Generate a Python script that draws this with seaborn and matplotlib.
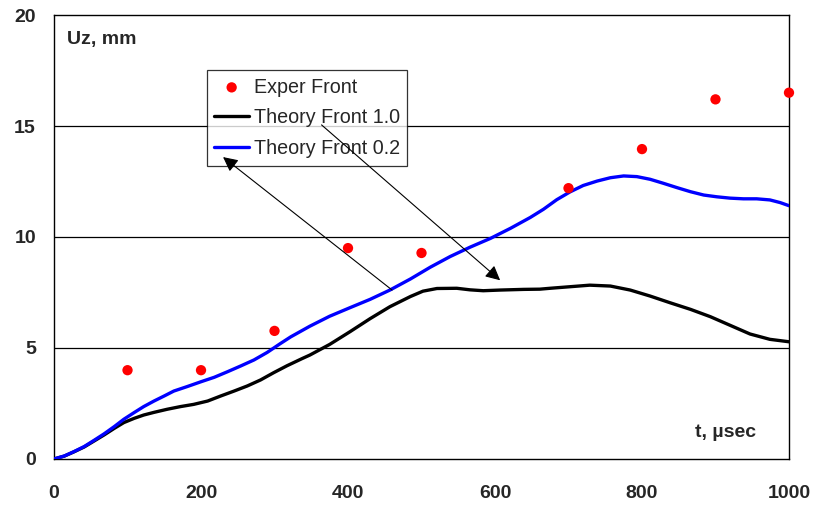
import numpy as np
import pandas as pd
import matplotlib
matplotlib.use("Agg")
import matplotlib.pyplot as plt
import seaborn as sns

# --- data ---
exp_t = [100, 200, 300, 400, 500, 700, 800, 900, 1000]
exp_uz = [4.0, 4.0, 5.77, 9.5, 9.28, 12.2, 13.96, 16.2, 16.5]

th10_t = [0, 14, 27, 41, 54, 68, 82, 95, 109, 122, 136, 154, 172, 190, 209, 227, 245,
          263, 281, 299, 317, 338, 348, 375, 403, 430, 457, 485, 502, 521, 548, 566,
          584, 607, 639, 661, 675, 702, 729, 757, 784, 811, 838, 866, 893, 920, 947,
          974, 1000]
th10_uz = [0.0, 0.13, 0.32, 0.54, 0.80, 1.08, 1.38, 1.64, 1.83, 1.98, 2.10, 2.24, 2.36,
           2.46, 2.61, 2.84, 3.06, 3.29, 3.56, 3.89, 4.20, 4.53, 4.68, 5.16, 5.74, 6.32,
           6.86, 7.32, 7.56, 7.68, 7.69, 7.62, 7.58, 7.61, 7.64, 7.65, 7.69, 7.76, 7.83,
           7.79, 7.61, 7.34, 7.04, 6.74, 6.41, 6.02, 5.63, 5.39, 5.28]

th02_t = [0, 14, 27, 41, 54, 68, 82, 95, 109, 122, 136, 150, 163, 181, 200, 218, 236,
          254, 272, 290, 308, 322, 348, 375, 403, 430, 457, 485, 512, 539, 566, 594,
          621, 648, 666, 684, 702, 720, 739, 757, 775, 793, 811, 829, 848, 866, 884,
          902, 920, 938, 956, 974, 988, 1000]
th02_uz = [0.0, 0.135, 0.33, 0.56, 0.83, 1.13, 1.46, 1.79, 2.09, 2.36, 2.61, 2.84, 3.06,
           3.26, 3.48, 3.68, 3.93, 4.19, 4.46, 4.80, 5.20, 5.50, 5.98, 6.43, 6.82, 7.19,
           7.61, 8.11, 8.64, 9.12, 9.54, 9.94, 10.39, 10.88, 11.25, 11.68, 12.03, 12.32,
           12.52, 12.67, 12.75, 12.72, 12.60, 12.42, 12.22, 12.04, 11.89, 11.81, 11.75,
           11.72, 11.72, 11.67, 11.55, 11.41]

x_ticks = [0, 200, 400, 600, 800, 1000]
y_ticks = [0, 5, 10, 15, 20]

sns.set_style("white")
plt.rcParams['font.family'] = ['Liberation Sans', 'DejaVu Sans']

fig = plt.figure(figsize=(8.16, 5.07), dpi=100)
ax = fig.add_axes([0.0662, 0.0947, 0.9007, 0.8757])

df10 = pd.DataFrame({"t": th10_t, "uz": th10_uz})
df02 = pd.DataFrame({"t": th02_t, "uz": th02_uz})
dfe = pd.DataFrame({"t": exp_t, "uz": exp_uz})

for yv in [5, 10, 15]:
    ax.axhline(yv, color="black", lw=0.9, zorder=1)

sns.scatterplot(data=dfe, x="t", y="uz", ax=ax, color="#ff0000", s=55,
                edgecolor="none", label="Exper Front", zorder=4, clip_on=False)
sns.lineplot(data=df10, x="t", y="uz", ax=ax, color="black", lw=2.4,
             label="Theory Front 1.0", zorder=3, solid_joinstyle="round",
             solid_capstyle="round")
sns.lineplot(data=df02, x="t", y="uz", ax=ax, color="#0000ff", lw=2.4,
             label="Theory Front 0.2", zorder=3, solid_joinstyle="round",
             solid_capstyle="round")

ax.set_xlim(0, 1000)
ax.set_ylim(0, 20)
ax.set_xticks(x_ticks)
ax.set_yticks(y_ticks)
ax.set_xlabel("")
ax.set_ylabel("")
for s in ax.spines.values():
    s.set_color("black")
    s.set_linewidth(1.0)
ax.tick_params(axis="both", direction="out", length=5, width=1, color="black",
               labelsize=14)
ax.tick_params(axis="y", pad=8)
ax.tick_params(axis="x", pad=14)
for lab in ax.get_xticklabels() + ax.get_yticklabels():
    lab.set_fontweight("bold")

ax.text(0.018, 0.944, "Uz, mm", transform=ax.transAxes, fontsize=14,
        fontweight="bold", ha="left", va="center")
ax.text(0.955, 0.059, "t, µsec", transform=ax.transAxes, fontsize=14,
        fontweight="bold", ha="right", va="center")

leg = ax.legend(loc="upper left", bbox_to_anchor=(0.208, 0.876), borderaxespad=0,
                frameon=True, fancybox=False, fontsize=14.2, handlelength=1.75,
                handletextpad=0.25, labelspacing=0.6, borderpad=0.38)
leg.get_frame().set_edgecolor("black")
leg.get_frame().set_linewidth(0.9)
leg.set_zorder(5)

arrowprops = dict(arrowstyle="-|>", color="black", lw=0.8, mutation_scale=22,
                  shrinkA=0, shrinkB=0)
ax.annotate("", xy=(607, 8.05), xytext=(364, 15.05), arrowprops=arrowprops, zorder=6)
ax.annotate("", xy=(230, 13.6), xytext=(460, 7.61), arrowprops=arrowprops, zorder=6)

fig.savefig("out.png", dpi=100)
